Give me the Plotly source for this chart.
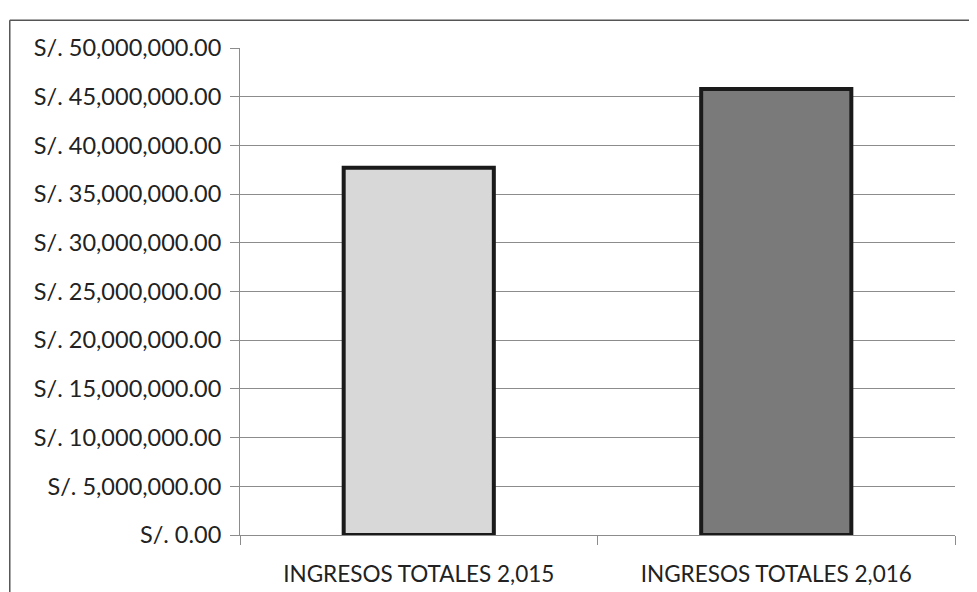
import plotly.graph_objects as go

categories = ["INGRESOS TOTALES 2,015", "INGRESOS TOTALES 2,016"]
values = [37700000, 45800000]
bar_colors = ["#d8d8d8", "#7a7a7a"]
tick_vals = [i * 5000000 for i in range(11)]
tick_text = ["S/. 0.00"] + ["S/. {:,.2f}".format(v) for v in tick_vals[1:]]

fig = go.Figure()
fig.add_trace(go.Bar(
    x=categories, y=values,
    marker=dict(color=bar_colors, line=dict(color="#1a1a1a", width=4)),
    width=0.42,
))

fig.update_layout(
    width=977, height=592,
    margin=dict(l=232, r=30, t=40, b=65, autoexpand=False),
    paper_bgcolor="white", plot_bgcolor="white",
    showlegend=False,
    font=dict(family="Lato, 'Open Sans', sans-serif", size=23, color="#222222"),
)
fig.update_yaxes(
    range=[0, 50000000], tickvals=tick_vals, ticktext=tick_text,
    showgrid=True, gridcolor="#8c8c8c", gridwidth=1,
    showline=True, linecolor="#8c8c8c", linewidth=1,
    ticks="outside", ticklen=9, tickcolor="#8c8c8c",
    zeroline=False, automargin=False,
    tickfont=dict(size=23.5), ticklabelstandoff=4,
)
fig.update_xaxes(
    showline=True, linecolor="#8c8c8c", linewidth=1,
    ticks="outside", ticklen=9, tickcolor="#8c8c8c",
    tickson="boundaries", showgrid=False, automargin=False,
    tickfont=dict(size=22.5), ticklabelstandoff=19,
)
fig.add_shape(type="line", xref="paper", yref="paper",
              x0=-0.322, x1=1.05, y0=1.057, y1=1.057,
              line=dict(color="#555555", width=1.5))
fig.add_shape(type="line", xref="paper", yref="paper",
              x0=-0.322, x1=-0.322, y0=1.057, y1=-0.14,
              line=dict(color="#555555", width=1.5))

fig.write_html("out.html")
